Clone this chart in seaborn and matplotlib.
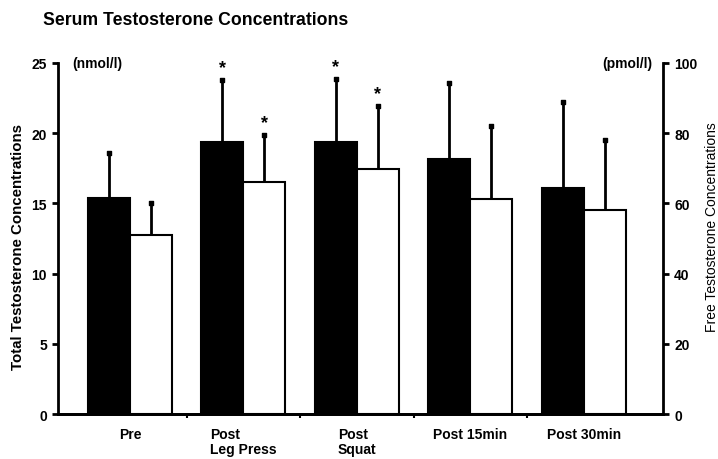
import pandas as pd
import seaborn as sns
import matplotlib.pyplot as plt

sns.set_style('white')
plt.rcParams['font.family'] = ['Liberation Sans', 'DejaVu Sans']
plt.rcParams['font.weight'] = 'bold'
plt.rcParams['text.color'] = 'black'
plt.rcParams['axes.labelcolor'] = 'black'
plt.rcParams['xtick.color'] = 'black'
plt.rcParams['ytick.color'] = 'black'

# data
phases = ['Pre', 'Post\nLeg Press', 'Post\nSquat', 'Post 15min', 'Post 30min']
total_mean = [15.4, 19.4, 19.35, 18.15, 16.1]      # nmol/l (left axis)
total_sd = [3.2, 4.4, 4.5, 5.4, 6.1]
free_mean = [51.0, 66.0, 69.8, 61.3, 58.1]         # pmol/l (right axis)
free_sd = [9.1, 13.5, 17.9, 20.7, 20.0]
total_sig = [False, True, True, False, False]
free_sig = [False, True, True, False, False]

bw = 0.37  # bar width (category spacing = 1)
idx = list(range(len(phases)))
df_total = pd.DataFrame({'pos': [i - bw / 2 for i in idx], 'value': total_mean})
df_free = pd.DataFrame({'pos': [i + bw / 2 for i in idx], 'value': free_mean})

fig = plt.figure(figsize=(7.18, 4.6), dpi=100)
ax = fig.add_axes([0.0808, 0.0978, 0.8426, 0.7631])
ax2 = ax.twinx()

# black bars -> total (left axis), white bars -> free (right axis)
sns.barplot(data=df_total, x='pos', y='value', native_scale=True, width=bw,
            color='black', edgecolor='black', linewidth=1.5, saturation=1, ax=ax)
sns.barplot(data=df_free, x='pos', y='value', native_scale=True, width=bw,
            color='white', edgecolor='black', linewidth=1.5, saturation=1, ax=ax2)

# upper error bars (line + small square cap) + asterisks
for a, d, sds, sig in [(ax, df_total, total_sd, total_sig), (ax2, df_free, free_sd, free_sig)]:
    tops = d['value'] + pd.Series(sds)
    a.vlines(d['pos'], d['value'], tops, color='black', linewidth=2, zorder=5)
    a.scatter(d['pos'], tops, marker='s', s=6, color='black', zorder=6)
    for x, t, flag in zip(d['pos'], tops, sig):
        if flag:
            a.annotate('*', (x, t), xytext=(0, 3), textcoords='offset points',
                       ha='center', va='bottom', fontsize=13, fontweight='bold')

ax.set_xlim(-0.634, 4.696)
ax.set_ylim(0, 25)
ax2.set_ylim(0, 100)
ax.set_yticks([0, 5, 10, 15, 20, 25])
ax2.set_yticks([0, 20, 40, 60, 80, 100])

for sp in ['top', 'right']:
    ax.spines[sp].set_visible(False)
ax2.spines['top'].set_visible(False)
ax2.spines['left'].set_visible(False)
for a in [ax, ax2]:
    for sp in a.spines.values():
        sp.set_linewidth(2)
        sp.set_color('black')

ax.tick_params(axis='y', direction='out', length=4, width=2, left=True, labelsize=10, pad=4)
ax2.tick_params(axis='y', direction='out', length=4, width=2, right=True, labelsize=10, pad=4)
ax.set_xticks(idx)
ax.set_xticklabels(phases, fontsize=10, fontweight='bold', multialignment='left',
                   va='top', linespacing=1.15)
ax.tick_params(axis='x', length=0, pad=9)
ax.set_xticks([i + 0.5 for i in idx[:-1]], minor=True)
ax.tick_params(axis='x', which='minor', direction='out', length=3, width=1.5, bottom=True)

ax.set_xlabel('')
ax.set_ylabel('Total Testosterone Concentrations', fontsize=10.8, fontweight='bold')
ax.yaxis.set_label_coords(-0.0545, 0.48)
ax2.set_ylabel('Free Testosterone Concentrations', fontsize=10, fontweight='normal')
ax2.yaxis.set_label_coords(1.0694, 0.536)

ax.text(0.023, 1.0, '(nmol/l)', transform=ax.transAxes, ha='left', va='center', fontsize=10, fontweight='bold')
ax.text(0.982, 1.0, '(pmol/l)', transform=ax.transAxes, ha='right', va='center', fontsize=10, fontweight='bold')
fig.text(0.06, 0.955, 'Serum Testosterone Concentrations', ha='left', va='center', fontsize=12.7, fontweight='bold')

fig.savefig('out.png', dpi=100)
